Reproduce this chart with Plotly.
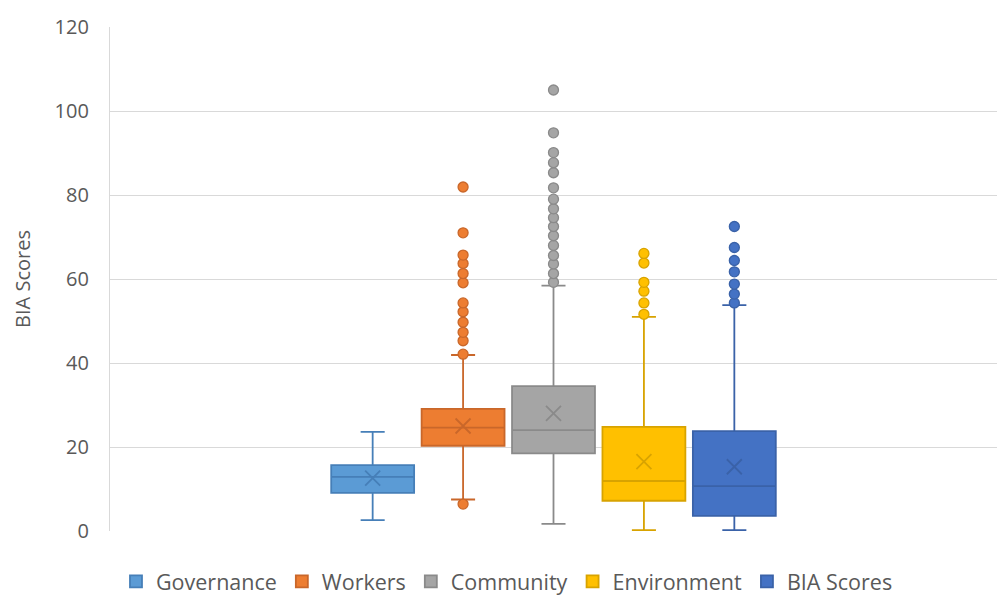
import plotly.graph_objects as go

categories = ["Governance", "Workers", "Community", "Environment", "BIA Scores"]
fill_colors = ["#5B9BD5", "#ED7D31", "#A5A5A5", "#FFC000", "#4472C4"]
line_colors = ["#467FB8", "#C9672A", "#8A8A8A", "#D8A300", "#3A62A8"]

lower_fence = [2.6, 7.5, 1.7, 0.2, 0.2]
q1 = [9.1, 20.3, 18.5, 7.2, 3.6]
median = [12.9, 24.6, 24.0, 11.9, 10.7]
q3 = [15.7, 29.1, 34.5, 24.8, 23.8]
upper_fence = [23.6, 41.9, 58.4, 51.0, 53.8]
mean = [12.6, 25.0, 28.0, 16.5, 15.3]

outliers = [
    [],
    [6.4, 42.1, 45.3, 47.3, 49.7, 52.2, 54.3, 59.1, 61.3, 63.7, 65.7, 71.0, 81.9],
    [59.2, 61.3, 63.6, 65.6, 68.0, 70.3, 72.5, 74.6, 76.7, 79.0, 81.7, 85.3, 87.7,
     90.1, 94.8, 105.0],
    [51.6, 54.3, 57.1, 59.2, 63.8, 66.1],
    [54.3, 56.4, 58.8, 61.7, 64.4, 67.5, 72.5],
]

y_ticks = [0, 20, 40, 60, 80, 100, 120]

fig = go.Figure()
for i, name in enumerate(categories):
    fig.add_trace(go.Box(
        name=name,
        x=[i],
        q1=[q1[i]], median=[median[i]], q3=[q3[i]],
        lowerfence=[lower_fence[i]], upperfence=[upper_fence[i]],
        width=0.917,
        whiskerwidth=0.29,
        fillcolor=fill_colors[i],
        line=dict(color=line_colors[i], width=1.8),
        boxpoints=False,
        showlegend=True,
        hoverinfo="skip",
    ))
for i, name in enumerate(categories):
    if outliers[i]:
        fig.add_trace(go.Scatter(
            x=[i] * len(outliers[i]), y=outliers[i], mode="markers",
            marker=dict(size=10, color=fill_colors[i],
                        line=dict(color=line_colors[i], width=1.3)),
            showlegend=False, hoverinfo="skip",
        ))
    fig.add_trace(go.Scatter(
        x=[i], y=[mean[i]], mode="markers",
        marker=dict(symbol="x-thin-open", size=15, color=line_colors[i],
                    line=dict(color=line_colors[i], width=1.8)),
        showlegend=False, hoverinfo="skip",
    ))

fig.update_layout(
    width=998, height=602,
    margin=dict(l=110, r=1, t=27, b=71, autoexpand=False),
    paper_bgcolor="white", plot_bgcolor="white",
    font=dict(family="Open Sans", color="#595959"),
    xaxis=dict(range=[-2.905, 6.905], showticklabels=False, showgrid=False,
               zeroline=False, showline=False, fixedrange=True),
    yaxis=dict(range=[0, 120], tickvals=y_ticks, showgrid=True,
               gridcolor="#D9D9D9", gridwidth=1.3, zeroline=False,
               showline=True, linecolor="#D9D9D9", linewidth=1.3,
               ticks="", ticklabelstandoff=16,
               tickfont=dict(size=20, color="#595959"),
               title=dict(text="BIA Scores", font=dict(size=20, color="#595959"),
                          standoff=18)),
    legend=dict(orientation="h", xref="container", x=0.508, xanchor="center",
                yref="container", y=0.0, yanchor="bottom",
                font=dict(size=21.5, color="#595959"),
                itemwidth=30, tracegroupgap=0),
)

fig.write_html("out.html")
